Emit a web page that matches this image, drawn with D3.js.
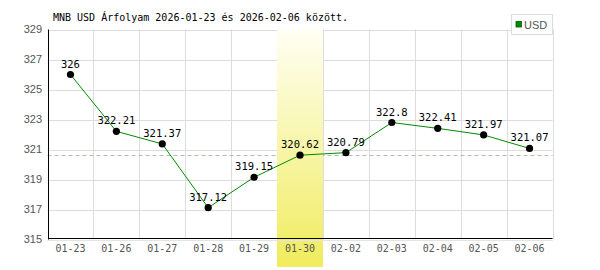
<!DOCTYPE html>
<html><head><meta charset="utf-8">
<script src="https://cdn.jsdelivr.net/npm/d3@7"></script>
<style>body{margin:0;background:#fff}</style>
</head><body>
<svg id="c" width="600" height="270"></svg>
<script>
const titleText = "MNB USD Árfolyam 2026-01-23 és 2026-02-06 között.";
const seriesName = "USD";
const categories = ["01-23","01-26","01-27","01-28","01-29","01-30","02-02","02-03","02-04","02-05","02-06"];
const values = [326, 322.21, 321.37, 317.12, 319.15, 320.62, 320.79, 322.8, 322.41, 321.97, 321.07];
const yTicks = [315, 317, 319, 321, 323, 325, 327, 329];
const highlightCategory = ["01-30"];
const referenceValue = [320.62];

const svg = d3.select("#c");
const L = 47.5, R = 552.5, T = 29.5, B = 239.5;
const x = d3.scaleBand().domain(categories).range([L, R]);
const y = d3.scaleLinear().domain([315, 329]).range([B, T]);
const mono = "'DejaVu Sans Mono', monospace";
const sans = "'Liberation Sans', Arial, sans-serif";

const defs = svg.append("defs");
const g = defs.append("linearGradient").attr("id","hl").attr("x1",0).attr("y1",0).attr("x2",0).attr("y2",1);
g.append("stop").attr("offset","0%").attr("stop-color","#fffff4");
g.append("stop").attr("offset","100%").attr("stop-color","#f0ec5c");

// grid horizontal
svg.append("g").selectAll("line").data(yTicks).join("line")
  .attr("x1", L).attr("x2", R).attr("y1", d => Math.round(y(d))+0.5).attr("y2", d => Math.round(y(d))+0.5)
  .attr("stroke", "#dddddd");
// grid vertical
svg.append("g").selectAll("line").data(categories.slice(1).concat(["__end"])).join("line")
  .attr("x1", (d,i) => Math.round(L + (i+1)*x.step())+0.5)
  .attr("x2", (d,i) => Math.round(L + (i+1)*x.step())+0.5)
  .attr("y1", T).attr("y2", B).attr("stroke", "#dddddd");

// reference dashed line
svg.append("line").attr("x1", L).attr("x2", R)
  .attr("y1", Math.round(y(referenceValue[0]))+0.5).attr("y2", Math.round(y(referenceValue[0]))+0.5)
  .attr("stroke", "#a4c4a4").attr("stroke-dasharray", "4,3");

// highlight
svg.append("g").selectAll("rect").data(highlightCategory).join("rect")
  .attr("x", d => Math.round(x(d))).attr("width", Math.round(x.bandwidth()))
  .attr("y", T).attr("height", 267 - T).attr("fill", "url(#hl)");

// axes lines
svg.append("line").attr("x1", 48.5).attr("x2", 48.5).attr("y1", T).attr("y2", B).attr("stroke", "#000");
svg.append("line").attr("x1", 48).attr("x2", R).attr("y1", 238.5).attr("y2", 238.5).attr("stroke", "#000");
svg.append("line").attr("x1", 48).attr("x2", R).attr("y1", 240.5).attr("y2", 240.5).attr("stroke", "#e4e4e4");

// y labels
svg.append("g").selectAll("text").data(yTicks).join("text")
  .attr("x", 42).attr("y", d => y(d)).attr("dy", "0.35em").attr("text-anchor", "end")
  .attr("font-family", sans).attr("font-size", 11).attr("fill", "#555").text(d => d);
// x labels
svg.append("g").selectAll("text").data(categories).join("text")
  .attr("x", d => x(d) + x.bandwidth()/2).attr("y", 252).attr("text-anchor", "middle")
  .attr("font-family", mono).attr("font-size", 10).attr("fill", "#555").text(d => d);

// line
const line = d3.line().x((d,i) => x(categories[i]) + x.bandwidth()/2).y(d => y(d));
svg.append("path").datum(values).attr("d", line).attr("fill", "none").attr("stroke", "#008a00").attr("stroke-width", 1);

// points
svg.append("g").selectAll("circle").data(values).join("circle")
  .attr("cx", (d,i) => x(categories[i]) + x.bandwidth()/2).attr("cy", d => y(d)).attr("r", 3.6).attr("fill", "#000");

// value labels
svg.append("g").selectAll("text").data(values).join("text")
  .attr("x", (d,i) => x(categories[i]) + x.bandwidth()/2).attr("y", d => y(d) - 7)
  .attr("text-anchor", "middle").attr("font-family", mono).attr("font-size", 10.5).attr("fill", "#000").text(d => d);

// title
svg.append("text").attr("x", 53).attr("y", 21).attr("font-family", mono).attr("font-size", 10)
  .attr("fill", "#000").text(titleText);

// legend
svg.append("rect").attr("x", 511.5).attr("y", 14.5).attr("width", 41).attr("height", 20)
  .attr("fill", "#fff").attr("stroke", "#dddddd");
svg.append("rect").attr("x", 516).attr("y", 21.5).attr("width", 5.5).attr("height", 5.5)
  .attr("fill", "#008a00").attr("stroke", "#005500").attr("stroke-width", 0.8);
svg.append("text").attr("x", 524).attr("y", 28.5).attr("font-family", sans).attr("font-size", 11)
  .attr("fill", "#555").text(seriesName);
</script>
</body></html>
